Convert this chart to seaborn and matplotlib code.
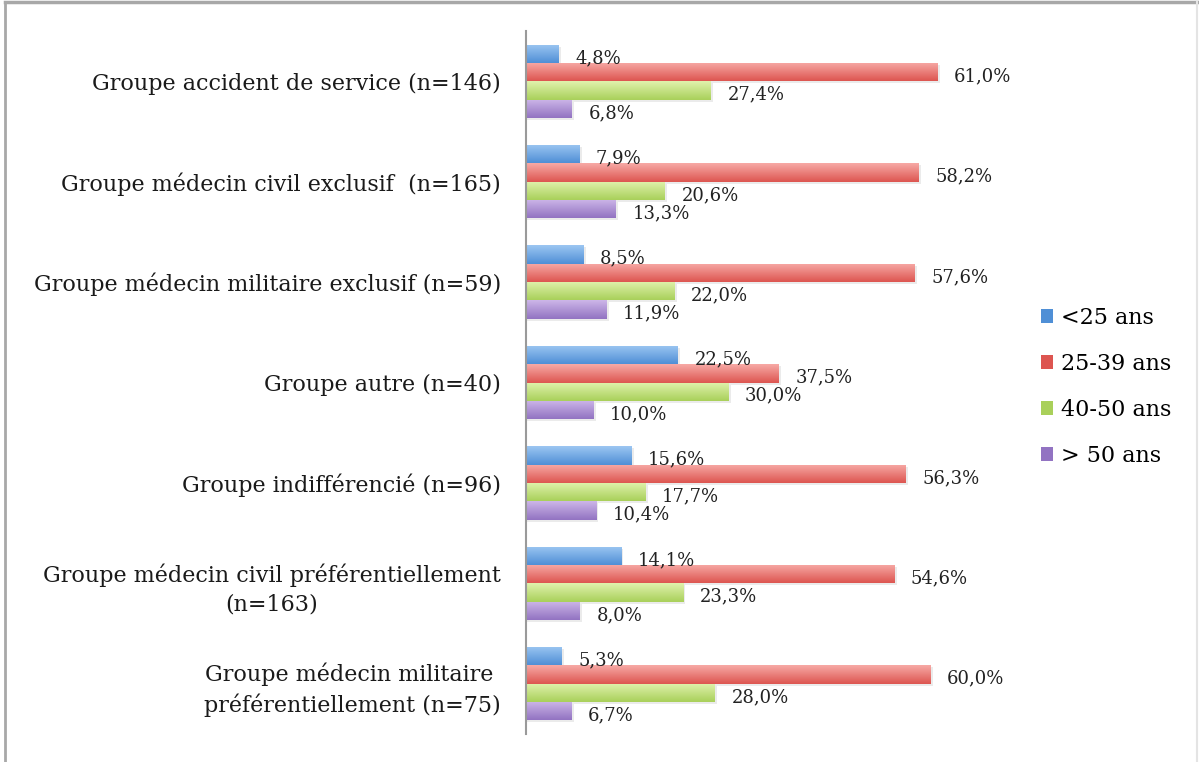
import numpy as np
import pandas as pd
import matplotlib.pyplot as plt
import matplotlib.colors as mcolors
from matplotlib.lines import Line2D
from matplotlib.patches import Patch
import seaborn as sns

###############
# Data
###############
groupes = [
    'Groupe accident de service (n=146)',
    'Groupe médecin civil exclusif  (n=165)',
    'Groupe médecin militaire exclusif (n=59)',
    'Groupe autre (n=40)',
    'Groupe indifférencié (n=96)',
    'Groupe médecin civil préférentiellement\n(n=163)',
    'Groupe médecin militaire \npréférentiellement (n=75)',
]
ages = ['<25 ans', '25-39 ans', '40-50 ans', '> 50 ans']
moins_25 = [4.8, 7.9, 8.5, 22.5, 15.6, 14.1, 5.3]
de_25_39 = [61.0, 58.2, 57.6, 37.5, 56.3, 54.6, 60.0]
de_40_50 = [27.4, 20.6, 22.0, 30.0, 17.7, 23.3, 28.0]
plus_50 = [6.8, 13.3, 11.9, 10.0, 10.4, 8.0, 6.7]

# (top, bottom) colours of the gradient for each series
couleurs = {
    '<25 ans': ('#9cc6f2', '#4f8fd6'),
    '25-39 ans': ('#f7aaa6', '#dd5550'),
    '40-50 ans': ('#e0f2ad', '#a9d05a'),
    '> 50 ans': ('#cdb6e8', '#9273c2'),
}

rows = []
for serie, vals in zip(ages, [moins_25, de_25_39, de_40_50, plus_50]):
    for g, v in zip(groupes, vals):
        rows.append({'groupe': g, 'age': serie, 'pct': v})
df = pd.DataFrame(rows)

###############
# Plot
###############
plt.rcParams['font.family'] = ['DejaVu Serif']
fig = plt.figure(figsize=(11.99, 7.62), dpi=100)
ax = fig.add_axes([526 / 1199, 28 / 762, 472 / 1199, 703 / 762])

palette = {k: v[1] for k, v in couleurs.items()}
sns.barplot(data=df, y='groupe', x='pct', hue='age', hue_order=ages,
            order=groupes, orient='h', palette=palette, width=0.73,
            gap=0, saturation=1, legend=False, ax=ax)

# gradient fill + soft shadow on every bar
grad = np.linspace(0, 1, 64).reshape(-1, 1)
for cont, serie in zip(ax.containers, ages):
    top, bot = couleurs[serie]
    cmap = mcolors.LinearSegmentedColormap.from_list(serie, [top, bot])
    for patch, v in zip(cont, cont.datavalues):
        x0, y0 = patch.get_x(), patch.get_y()
        w, h = patch.get_width(), patch.get_height()
        shadow = plt.Rectangle((x0, y0 + 0.02), w + 0.35, h, color='#000000',
                               alpha=0.08, lw=0, zorder=1)
        ax.add_patch(shadow)
        patch.set_facecolor('none')
        patch.set_edgecolor('none')
        im = ax.imshow(grad, cmap=cmap, aspect='auto', zorder=2,
                       extent=(x0, x0 + w, y0 + h, y0), interpolation='bicubic')
        im.set_clip_path(patch)
        txt = f'{v:.1f}%'.replace('.', ',')
        ax.annotate(txt, (x0 + w, y0 + h / 2), xytext=(12, -3),
                    textcoords='offset points', ha='left', va='center',
                    fontsize=13, color='#222222')

ax.set_xlim(0, 70)
ax.set_ylim(6.5, -0.5)
ax.set_xlabel('')
ax.set_ylabel('')
ax.set_xticks([])
ax.tick_params(axis='y', length=0, pad=18, labelsize=16)
for lab in ax.get_yticklabels():
    lab.set_horizontalalignment('right')
    lab.set_multialignment('center')
    lab.set_linespacing(1.4)
    lab.set_color('#1a1a1a')
for s in ['top', 'right', 'bottom']:
    ax.spines[s].set_visible(False)
ax.spines['left'].set_color('#9a9a9a')
ax.spines['left'].set_linewidth(1.5)

# legend
handles = [Patch(facecolor=couleurs[a][1], edgecolor='none') for a in ages]
fig.legend(handles, ages, loc='center left', bbox_to_anchor=(1021 / 1199, 1 - 387 / 762),
           frameon=False, fontsize=16, handlelength=0.55, handleheight=0.55,
           handletextpad=0.35, labelspacing=1.08)

# outer frame
fig.add_artist(Line2D([5 / 1199, 1], [1 - 2 / 762, 1 - 2 / 762], color='#a8a8a8', lw=2.5,
                      transform=fig.transFigure))
fig.add_artist(Line2D([5 / 1199, 5 / 1199], [0, 1 - 2 / 762], color='#a8a8a8', lw=2,
                      transform=fig.transFigure))
fig.add_artist(Line2D([1197 / 1199, 1197 / 1199], [0, 1 - 2 / 762], color='#e4e4e4', lw=1.5,
                      transform=fig.transFigure))

plt.savefig('out.png', dpi=100)
